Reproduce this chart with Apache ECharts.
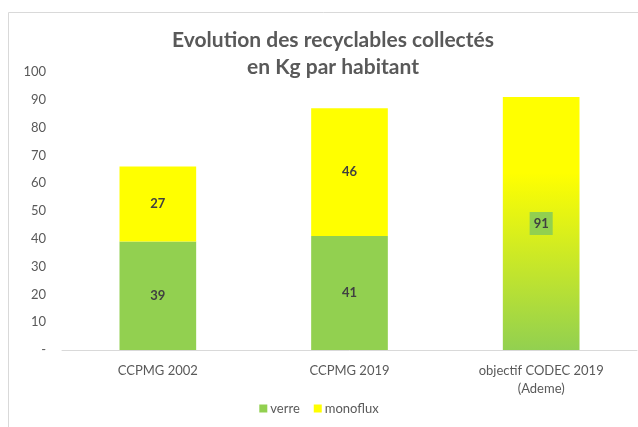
<!DOCTYPE html>
<html><head><meta charset="utf-8">
<script src="https://cdn.jsdelivr.net/npm/echarts@6/dist/echarts.min.js"></script>
<style>html,body{margin:0;padding:0;background:#fff}#c{width:638px;height:427px}</style>
</head><body><div id="c"></div>
<script>
const categories = ['CCPMG 2002', 'CCPMG 2019', 'objectif CODEC 2019\n(Ademe)'];
const verre = [39, 41, null];
const monoflux = [27, 46, null];
const objectif = [null, null, 91];
const yTicks = [0, 10, 20, 30, 40, 50, 60, 70, 80, 90, 100];

const font = 'Lato, "Open Sans", sans-serif';
const chart = echarts.init(document.getElementById('c'), null, {renderer: 'canvas'});
const lbl = {show: true, position: 'inside', color: '#404040', fontWeight: 'bold', fontSize: 13, fontFamily: font};
chart.setOption({
  animation: false,
  graphic: [{type: 'rect', shape: {x: 8.5, y: 12.5, width: 640, height: 430}, style: {fill: 'none', stroke: '#d9d9d9', lineWidth: 1}, silent: true}],
  title: {
    text: 'Evolution des recyclables collectés\nen Kg par habitant',
    left: 328, top: 22, textAlign: 'center',
    textStyle: {fontFamily: font, fontSize: 21, fontWeight: 'bold', color: '#595959', lineHeight: 27}
  },
  legend: {
    data: ['verre', 'monoflux'], bottom: 7, left: 'center',
    itemWidth: 8, itemHeight: 8, itemGap: 14, icon: 'rect',
    textStyle: {fontFamily: font, fontSize: 13, color: '#595959', padding: [0, 0, 0, -2]}
  },
  grid: {left: 62, right: 1, top: 72, bottom: 77},
  xAxis: {
    type: 'category', data: categories,
    axisLine: {lineStyle: {color: '#d9d9d9'}}, axisTick: {show: false},
    axisLabel: {fontFamily: font, fontSize: 13, color: '#595959', margin: 12, lineHeight: 18}
  },
  yAxis: {
    type: 'value', min: 0, max: 100, interval: 10,
    axisLine: {show: false}, axisTick: {show: false}, splitLine: {show: false},
    axisLabel: {fontFamily: font, fontSize: 13, color: '#595959', margin: 16,
      formatter: v => (yTicks.indexOf(v) >= 0 ? (v === 0 ? '-' : String(v)) : '')}
  },
  series: [
    {name: 'verre', type: 'bar', stack: 's', data: verre, barWidth: '40%', itemStyle: {color: '#92d050'}, label: lbl},
    {name: 'monoflux', type: 'bar', stack: 's', data: monoflux, itemStyle: {color: '#ffff00'}, label: lbl},
    {name: 'objectif', type: 'bar', stack: 's', data: objectif,
      itemStyle: {color: new echarts.graphic.LinearGradient(0, 0, 0, 1, [
        {offset: 0, color: '#ffff00'}, {offset: 0.3, color: '#ffff00'}, {offset: 1, color: '#92d050'}])},
      label: Object.assign({}, lbl, {backgroundColor: '#92d050', padding: [5, 4, 5, 4]})}
  ]
});
</script></body></html>
